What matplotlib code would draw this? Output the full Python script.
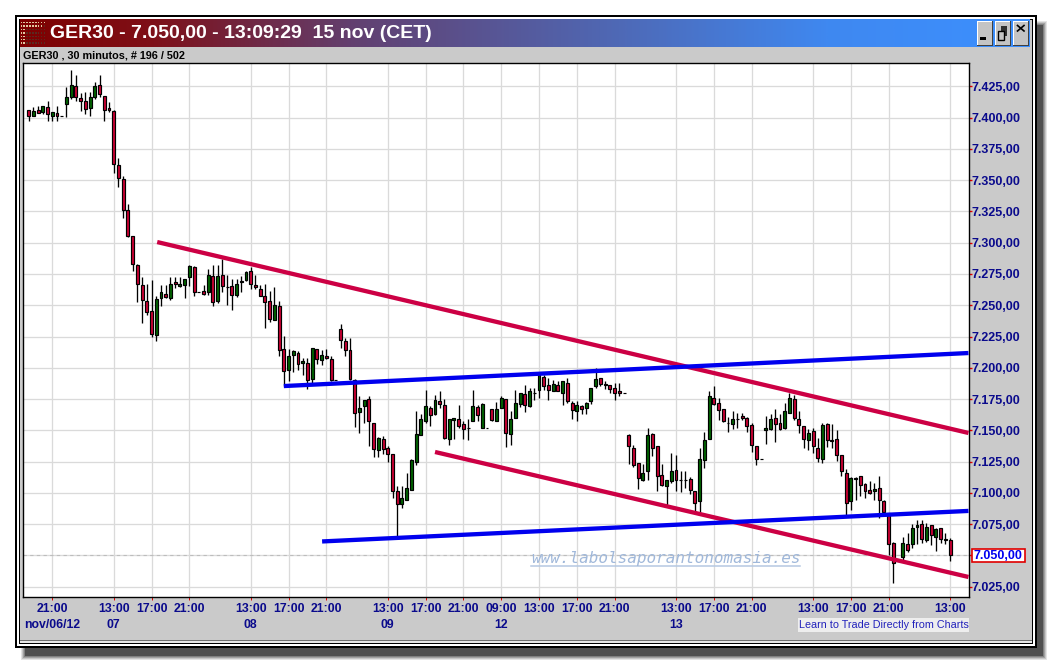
import numpy as np
import matplotlib
matplotlib.use("Agg")
import matplotlib.pyplot as plt
from matplotlib.patches import Rectangle
from matplotlib.colors import LinearSegmentedColormap

# ---------------- data (prices) ----------------
opens = [
7405.7,7400.9,7405.7,7404.7,7408.1,7401.5,7403.3,7400.9,7411,7416.6,
7424.9,7415.3,7412.9,7407.9,7416.6,7425.7,7416.9,7407.3,7404.9,7361.8,
7350.6,7325.8,7305,7281.9,7265.9,7253.1,7245.1,7226.5,7256,7258.7,
7256,7268.3,7265.6,7265.9,7272.3,7280.3,7260.3,7261.1,7260.3,7273.1,
7253.1,7273.9,7264.3,7265.1,7257.9,7268.3,7269.9,7277.1,7265.9,7262.7,
7257.1,7253.1,7237.9,7249.1,7214.7,7198,7209.9,7211.5,7203.5,7203.5,
7190.8,7214.7,7205.9,7209.1,7206.7,7190,7230.7,7221.2,7214,7190,
7164.9,7169.2,7174.8,7155.6,7134,7142.8,7135.6,7130.8,7101.3,7091.4,
7094.6,7102.6,7125,7146,7157.7,7167.6,7162.8,7173.2,7170,7142.8,
7158,7158.8,7154.8,7151.6,7157.2,7168.9,7151.6,7151.6,7166.8,7157.2,
7167.6,7174.8,7146.8,7159.6,7170.8,7178.8,7169.2,7179.6,7182,7192.4,
7186,7181.2,7186,7179.6,7187.6,7171.6,7165.2,7169.2,7167.6,7173.2,
7185.2,7191.6,7186,7186,7183.6,7181.2,7179.6,7146,7135.6,7123.6,
7110.6,7117.2,7146.8,7137.2,7114,7105.8,7109.2,7118,7110.3,7110.3,
7110.8,7101.2,7093.2,7126,7142.8,7175.6,7171.6,7166.8,7155.6,7154.8,
7159.3,7161.2,7159.6,7154,7137.2,7126.8,7150,7150.8,7159.6,7155.6,
7151.6,7163.6,7174.8,7158.8,7153.2,7142,7149.2,7135.6,7126.8,7154.8,
7142,7142.8,7130,7115.6,7093.2,7110.8,7113.2,7106.8,7102,7101.2,
7103.6,7093.2,7083.6,7059.7,7045.6,7048.5,7058.9,7059.4,7072.5,7074.9,
7062.1,7074.1,7064.5,7071.7,7062.9,7062.1]
highs = [
7405.7,7408.7,7409.2,7408.9,7413.2,7404.1,7409.2,7400.9,7424.4,7438,
7434,7419.3,7420.1,7420.1,7428.1,7434,7416.9,7412.4,7406,7367.4,
7353,7330.9,7305,7282.7,7272.5,7266.7,7270.1,7257.4,7266.2,7266.2,
7272.5,7272.5,7272.5,7270.7,7281.9,7281.1,7260.3,7265.9,7278.7,7281.9,
7281.9,7286.7,7273.9,7270.7,7270.7,7273.1,7277.1,7280.3,7273.9,7265.9,
7266.7,7261.1,7264.3,7253.1,7225.1,7214.7,7213.9,7213.1,7207.5,7207.5,
7215.5,7214.7,7213.9,7214.7,7209.1,7190,7234.7,7223.5,7223.5,7190.8,
7177.2,7174,7177.2,7155.6,7145,7145.2,7137.5,7130.8,7105.8,7105.5,
7115.7,7126.8,7165.5,7163.1,7182.3,7169.2,7178,7181.5,7174.8,7158.8,
7159.6,7170.3,7157.2,7158.8,7182.3,7170,7171.6,7151.6,7166.8,7172.4,
7177.2,7174.8,7165.2,7182.3,7179.6,7186,7183.6,7183.6,7194,7194,
7191.6,7190,7189.2,7189.2,7191.6,7173.2,7173.2,7170,7172.4,7183.6,
7199.6,7191.6,7189.2,7186,7187.6,7187.6,7179.6,7146.8,7138.5,7123.6,
7122.8,7151.6,7147.6,7137.2,7122.8,7110,7131.6,7130,7117.2,7117.2,
7112.4,7101.2,7135.6,7148.4,7181.2,7185.1,7175.6,7166.8,7160.4,7165.2,
7163.6,7163.6,7160.4,7155.6,7137.2,7126.8,7161.2,7162.8,7166.8,7162.8,
7171.6,7179.6,7178,7165.2,7153.2,7150.8,7151.6,7143.6,7155.6,7155.6,
7154.8,7150,7130,7118.8,7112.4,7112.4,7113.2,7107.6,7109.2,7107.6,
7113.2,7094,7083.6,7060.5,7045.6,7064.5,7067.7,7074.9,7078.3,7078.3,
7075.7,7074.1,7071.7,7071.7,7067.7,7063.7]
lows = [
7397.5,7400.9,7403.3,7402.8,7397.5,7397.5,7397.5,7400.9,7400.4,7415,
7413.4,7405.2,7403.1,7401.2,7415,7416.6,7397.5,7404.1,7355.9,7344.7,
7319.7,7304.2,7277.6,7252.8,7236,7242.2,7224.9,7221.7,7249.6,7256,
7254.4,7263.5,7264.8,7256,7265.4,7257.6,7260.3,7257.9,7258.2,7249.6,
7252,7260.8,7250.4,7246.4,7256.3,7260.3,7269.1,7262.7,7262.7,7257.1,
7232.1,7236.8,7237.9,7209.7,7185.4,7189.7,7196.9,7198,7194.2,7183,
7187.6,7203,7201.9,7206.7,7189.2,7190,7215.5,7209.7,7190.2,7153,
7147.6,7155.6,7137.5,7129,7129,7131.1,7125,7095.7,7065,7087.7,
7094.3,7102.1,7122.3,7146,7156.1,7153.5,7162,7167.6,7142.8,7138.6,
7143.4,7151.6,7143.4,7142,7157.2,7157.2,7151.6,7151.6,7157.2,7157.2,
7167.6,7137,7138.6,7159.6,7168.4,7164.9,7168.7,7174.3,7175.6,7182,
7174.3,7181.2,7181.2,7170,7171.6,7158.8,7157.2,7162.8,7162.8,7170.8,
7183.6,7185.2,7182.8,7179.6,7174.3,7177.7,7179.6,7123.1,7120.9,7103.4,
7109.8,7110.3,7129.5,7101.8,7105.8,7090.3,7107.6,7101.2,7101,7103.6,
7098.8,7083.6,7083.6,7119.6,7142.8,7170.2,7158.2,7156.4,7148.9,7151.3,
7151.6,7158.2,7148.4,7132.9,7122.5,7126.8,7138.8,7150.2,7140.7,7150.2,
7150.8,7163.6,7158,7147.6,7135.6,7134,7131.6,7124.4,7123.6,7136.4,
7135.6,7125.2,7113.2,7082.3,7086.3,7094.3,7097.2,7095.6,7098.8,7094.3,
7079.7,7083.6,7050.3,7028.2,7045.6,7046.4,7053,7056.2,7059.2,7059.7,
7061,7058.3,7053.8,7059.7,7059.2,7045.8]
closes = [
7401.5,7404.9,7403.9,7408.9,7403.1,7404.1,7400.9,7400.9,7416.1,7425.7,
7416.1,7413.4,7407.1,7416.1,7424.9,7419,7405.7,7405.7,7362.6,7351.9,
7326.3,7305.6,7282.7,7266.7,7253.9,7244.3,7227.3,7254.7,7260.3,7256.8,
7266.7,7266.7,7266.7,7270.7,7281.1,7260.3,7260.3,7258.7,7273.9,7252.3,
7273.1,7265.1,7264.3,7257.9,7266.7,7269.1,7276.3,7266.7,7264.3,7257.6,
7252.3,7238.7,7249.9,7214.2,7197.2,7209.1,7213.1,7202.7,7205.1,7190,
7215.5,7206.7,7209.9,7207.5,7190,7190,7221.9,7214,7190.8,7163.6,
7167.6,7174,7157.2,7134.8,7143.6,7134.8,7131.4,7101.8,7090.9,7095.7,
7103.7,7126,7146.8,7158.8,7169.2,7162,7174,7170.8,7143.6,7158.8,
7159.6,7153.7,7150.8,7151.6,7169.2,7162,7170.8,7151.6,7158,7166.8,
7175.6,7147.6,7158.8,7171.6,7179.6,7170,7181.2,7179.6,7194,7185.2,
7182,7186.8,7181.2,7189.2,7173.2,7166,7170,7166.8,7171.6,7183.6,
7190.8,7186.8,7186.8,7182.8,7179.6,7179.6,7179.6,7137.2,7122.5,7111.6,
7115.6,7146,7135.6,7113.2,7106.6,7110,7117.2,7110.6,7110.3,7110.3,
7102,7091.6,7126.8,7142,7177.2,7170.8,7166,7157.2,7155.6,7158.8,
7159.3,7159.6,7153.2,7138,7126.8,7126.8,7151.6,7158.8,7154.8,7150.8,
7165.2,7175.6,7159.6,7154,7142.8,7147.6,7137.2,7127.6,7154,7142,
7141.2,7130,7117.2,7091.6,7111.6,7111.6,7106,7101.2,7099.6,7102.8,
7094,7084.4,7058.9,7043.7,7045.6,7059.7,7054.1,7071.7,7074.1,7062.9,
7072.5,7066.1,7070.9,7062.9,7062.1,7050.3]

price_ticks = [7025, 7050, 7075, 7100, 7125, 7150, 7175, 7200, 7225, 7250,
               7275, 7300, 7325, 7350, 7375, 7400, 7425]
price_labels = ["7.025,00", "", "7.075,00", "7.100,00", "7.125,00", "7.150,00",
                "7.175,00", "7.200,00", "7.225,00", "7.250,00", "7.275,00",
                "7.300,00", "7.325,00", "7.350,00", "7.375,00", "7.400,00", "7.425,00"]
time_ticks = [5, 18, 26, 34, 47, 55, 63, 76, 84, 92, 100, 108, 116, 124,
              137, 145, 153, 166, 174, 182, 195]
time_labels = ["21:00\nnov/06/12", "13:00\n07", "17:00", "21:00", "13:00\n08", "17:00",
               "21:00", "13:00\n09", "17:00", "21:00", "09:00\n12", "13:00", "17:00",
               "21:00", "13:00\n13", "17:00", "21:00", "13:00", "17:00", "21:00", "13:00"]

red_upper = ([27.2, 198.9], [7300.5, 7147.9])
red_lower = ([86.0, 198.9], [7132.7, 7032.8])
blue_upper = ([54.0, 198.9], [7185.4, 7211.8])
blue_lower = ([62.1, 198.9], [7061.2, 7085.6])
last_price = 7050

title = "GER30 - 7.050,00 - 13:09:29  15 nov (CET)"
subtitle = "GER30 , 30 minutos, # 196 / 502"
watermark = "www.labolsaporantonomasia.es"
promo = "Learn to Trade Directly from Charts"

# ---------------- figure ----------------
W, H = 1052, 663
FONT = "Liberation Sans"
fig = plt.figure(figsize=(W / 100, H / 100), dpi=100, facecolor="white")

back = fig.add_axes([0, 0, 1, 1], zorder=0)
back.set_xlim(0, W); back.set_ylim(H, 0); back.axis("off")

def box(a, x0, y0, x1, y1, **kw):
    kw.setdefault("linewidth", 0)
    a.add_patch(Rectangle((x0, y0), x1 - x0, y1 - y0, **kw))

# drop shadow
for grow, alpha in [(4, .15), (3, .2), (2, .3), (1, .4), (0, 1)]:
    box(back, 25 - grow, 25 - grow, 1043 + grow, 656 + grow, facecolor="#505050", alpha=alpha)
# frame
box(back, 15, 15, 1037, 648, facecolor="black")
box(back, 17, 17, 1035, 646, facecolor="white")
box(back, 19, 19, 1033, 644, facecolor="black")
box(back, 20, 20, 1032, 643, facecolor="#CACACA")
box(back, 20, 639.5, 1032, 641, facecolor="#707070")
box(back, 20, 641, 1032, 643, facecolor="#E8E8E8")
# title gradient
cmap = LinearSegmentedColormap.from_list("t", [(0, "#7E0000"), (0.13, "#7E1018"), (0.33, "#624070"),
                                               (0.6, "#4E6AB8"), (0.8, "#3F88F0"), (1, "#3C90FF")])
back.imshow(np.linspace(0, 1, 512)[None, :], cmap=cmap, aspect="auto",
            extent=(20, 1030, 47.5, 20), zorder=1)
back.set_xlim(0, W); back.set_ylim(H, 0)
# logo dots
for i in range(7):
    for j in range(9):
        c_dot = "#E0C8A0" if (j < 2 or i < 2) and i + j < 9 else "#5A2A20"
        box(back, 20.5 + j * 2.9, 22 + i * 3.4, 22 + j * 2.9, 23.4 + i * 3.4, facecolor=c_dot, zorder=2)
# window buttons
for x0 in (977, 995, 1013):
    box(back, x0, 21, x0 + 16, 45.5, facecolor="#C4C4C4", zorder=2)
    box(back, x0, 21, x0 + 16, 22, facecolor="white", zorder=2)
    box(back, x0, 21, x0 + 1, 45.5, facecolor="white", zorder=2)
    box(back, x0, 44.5, x0 + 16, 45.5, facecolor="#404040", zorder=2)
    box(back, x0 + 15, 21, x0 + 16, 45.5, facecolor="#404040", zorder=2)
box(back, 980, 36.5, 986, 39.5, facecolor="black", zorder=3)
box(back, 1001, 26, 1007, 36, facecolor="#303030", zorder=3)
box(back, 998, 31, 1004, 40, facecolor="#C4C4C4", edgecolor="black", linewidth=1, zorder=3)
back.plot([1017.5, 1024], [25.5, 31], color="black", lw=1.2, zorder=3)
back.plot([1017.5, 1024], [31, 25.5], color="black", lw=1.2, zorder=3)

back.text(50, 33.5, title, color="white", fontsize=14, fontweight="bold", family=FONT,
          va="center", ha="left", zorder=4)
back.text(23, 56, subtitle, color="black", fontsize=7.8, fontweight="bold", family=FONT,
          va="center", ha="left", zorder=4)
box(back, 798, 617.5, 968.5, 632, facecolor="#EEEEEE", zorder=2)
back.text(799, 625, promo, color="#2222BB", fontsize=7.75, family=FONT, va="center", ha="left", zorder=4)

# ---------------- price axes ----------------
left, right, top, bottom = 23, 968.5, 63, 596.5
ax = fig.add_axes([left / W, 1 - bottom / H, (right - left) / W, (bottom - top) / H], zorder=2)
ax.set_xlim(-1.2, 198.9)
ax.set_ylim(7017.2, 7443.6)
ax.set_facecolor("white")
for s in ax.spines.values():
    s.set_linewidth(1.0); s.set_color("black")

ax.yaxis.tick_right()
ax.set_yticks(price_ticks, price_labels)
ax.set_xticks(time_ticks, time_labels)
ax.tick_params(axis="y", length=2.5, width=1, color="#E00000", labelcolor="#0A0A8C",
               labelsize=9, pad=0)
ax.tick_params(axis="x", length=2, width=.7, color="#E00000", labelcolor="#0A0A8C",
               labelsize=8.8, pad=3)
for t in ax.get_xticklabels() + ax.get_yticklabels():
    t.set_family(FONT); t.set_fontweight("bold")
for t in ax.get_xticklabels():
    t.set_linespacing(1.45)
    t.set_verticalalignment("top")
ax.grid(True, color="#DADADA", linewidth=0.95)
ax.set_axisbelow(True)
ax.axhline(last_price, color="#BDBDBD", lw=.8, ls=(0, (3, 3)), zorder=1)

o, h, l, c = map(np.array, (opens, highs, lows, closes))
xs = np.arange(len(o))
colors = np.where(c >= o, "#006400", "#CC0033")
ax.vlines(xs, l, h, color="black", linewidth=0.95, zorder=2)
ax.bar(xs, np.abs(c - o), bottom=np.minimum(o, c), width=0.62, color=colors,
       edgecolor="black", linewidth=0.85, zorder=3)

for (lx, ly) in (red_upper, red_lower):
    ax.plot(lx, ly, color="#CC0044", lw=3.1, solid_capstyle="butt", zorder=4)
for (lx, ly) in (blue_upper, blue_lower):
    ax.plot(lx, ly, color="#0000EE", lw=3.1, solid_capstyle="butt", zorder=4)

# ---------------- top overlay ----------------
over = fig.add_axes([0, 0, 1, 1], zorder=3, facecolor="none")
over.set_xlim(0, W); over.set_ylim(H, 0); over.axis("off")
box(over, 971.5, 549, 1025, 562, facecolor="white", edgecolor="#E00000", linewidth=1.2)
over.text(998.2, 555.8, "7.050,00", color="#0000F0", fontsize=9, fontweight="bold", family=FONT,
          ha="center", va="center")
over.text(531, 558, watermark, color="#A0B8DA", fontsize=11.55, family="DejaVu Sans Mono",
          style="oblique", ha="left", va="center")
over.plot([531, 800], [566, 566], color="#B5C8E2", lw=1.1)

fig.savefig("out.png", dpi=100, facecolor="white")
